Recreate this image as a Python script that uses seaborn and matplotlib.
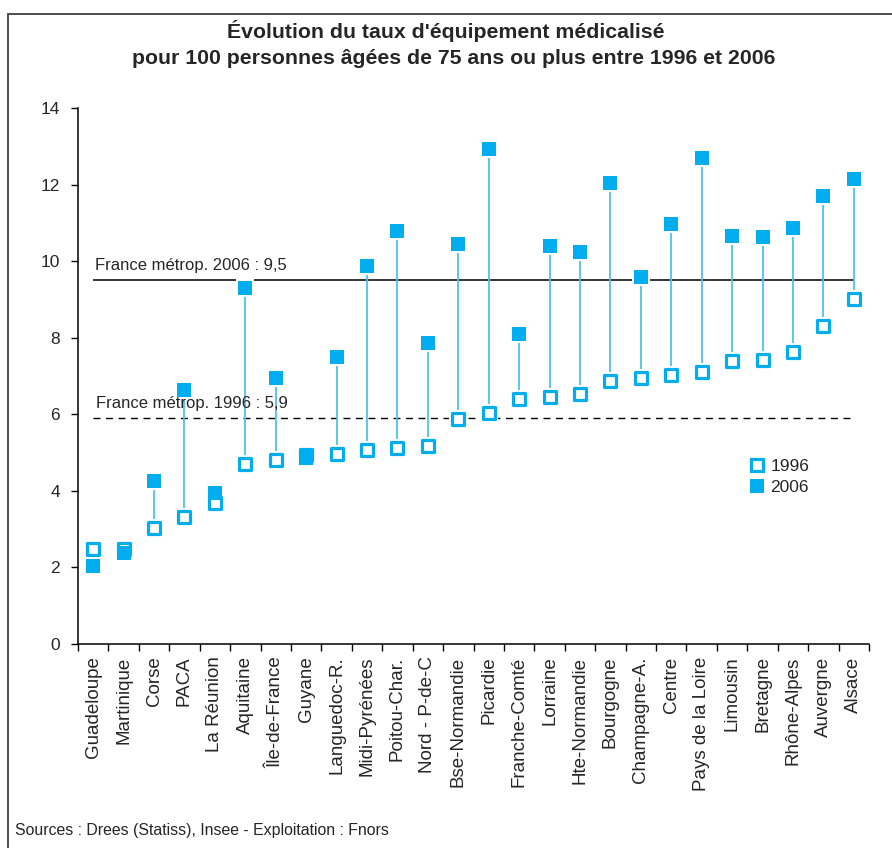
import numpy as np
import pandas as pd
import matplotlib
matplotlib.use("Agg")
import matplotlib.pyplot as plt
from matplotlib.lines import Line2D
from matplotlib.patches import Rectangle
import seaborn as sns

regions = ["Guadeloupe", "Martinique", "Corse", "PACA", "La Réunion", "Aquitaine",
           "Île-de-France", "Guyane", "Languedoc-R.", "Midi-Pyrénées", "Poitou-Char.",
           "Nord - P-de-C", "Bse-Normandie", "Picardie", "Franche-Comté", "Lorraine",
           "Hte-Normandie", "Bourgogne", "Champagne-A.", "Centre", "Pays de la Loire",
           "Limousin", "Bretagne", "Rhône-Alpes", "Auvergne", "Alsace"]
taux_1996 = [2.48, 2.47, 3.02, 3.33, 3.67, 4.69, 4.81, 4.93, 4.97, 5.06, 5.13,
             5.18, 5.87, 6.03, 6.41, 6.46, 6.54, 6.86, 6.96, 7.03, 7.10, 7.39,
             7.42, 7.62, 8.30, 9.00]
taux_2006 = [2.04, 2.38, 4.27, 6.63, 3.94, 9.30, 6.96, 4.87, 7.50, 9.87, 10.79,
             7.86, 10.44, 12.93, 8.09, 10.39, 10.25, 12.05, 9.58, 10.96, 12.70,
             10.66, 10.64, 10.86, 11.71, 12.14]
france_1996 = 5.9
france_2006 = 9.5
yticks = [0, 2, 4, 6, 8, 10, 12, 14]

title_l1 = "Évolution du taux d'équipement médicalisé"
title_l2 = "pour 100 personnes âgées de 75 ans ou plus entre 1996 et 2006"
source = "Sources : Drees (Statiss), Insee - Exploitation : Fnors"

CYAN = "#00aeef"
LINE = "#4cc4f2"

sns.set_theme(style="white")
plt.rcParams["font.family"] = ["Liberation Sans", "DejaVu Sans"]

df = pd.DataFrame({"region": regions, "1996": taux_1996, "2006": taux_2006})
pos = np.arange(len(regions))

fig = plt.figure(figsize=(8.92, 8.48), dpi=100)
ax = fig.add_axes([78 / 892, 1 - 644 / 848, (869 - 78) / 892, (644 - 108) / 848])

# connectors between the two years
ax.vlines(pos, df["1996"], df["2006"], color=LINE, lw=1.3, zorder=2)

# white halos leave a small gap between the connectors and the markers
for col in ["1996", "2006"]:
    sns.scatterplot(x=pos, y=df[col], ax=ax, marker="s", s=185, color="white",
                    linewidth=0, legend=False, zorder=2.5)

sns.scatterplot(x=pos, y=df["1996"], ax=ax, marker="s", s=64, facecolor="white",
                edgecolor=CYAN, linewidth=2.3, legend=False, zorder=3)
sns.scatterplot(x=pos, y=df["2006"], ax=ax, marker="s", s=95, color=CYAN,
                linewidth=0, legend=False, zorder=4)

# national reference levels
ax.hlines(france_2006, pos[0], pos[-1], color="black", lw=1.1, zorder=1.5)
ax.hlines(france_1996, pos[0], pos[-1], color="black", lw=1.0,
          linestyles=(0, (5, 4)), zorder=1.5)
ax.annotate("France métrop. 2006 : 9,5", (pos[0], france_2006), xytext=(1, 5),
            textcoords="offset points", fontsize=12, ha="left", va="bottom")
ax.annotate("France métrop. 1996 : 5,9", (pos[0], france_1996), xytext=(2, 5),
            textcoords="offset points", fontsize=12, ha="left", va="bottom")

ax.set_xlim(-0.5, len(regions) - 0.5)
ax.set_ylim(0, 14)
ax.set_yticks(yticks)
ax.set_yticklabels([str(v) for v in yticks], fontsize=12.5)
ax.set_xticks(pos)
ax.set_xticklabels(regions, rotation=90, fontsize=13.5)
ax.set_xticks(np.arange(-0.5, len(regions), 1), minor=True)
ax.tick_params(axis="x", which="major", length=0, pad=9)
ax.tick_params(axis="x", which="minor", length=5, width=1, color="black",
               direction="out", bottom=True)
ax.tick_params(axis="y", length=5, width=1, color="black", direction="out",
               left=True, pad=8)
for side in ["top", "right"]:
    ax.spines[side].set_visible(False)
for side in ["left", "bottom"]:
    ax.spines[side].set_color("black")
    ax.spines[side].set_linewidth(1.1)
ax.set_xlabel("")
ax.set_ylabel("")
ax.grid(False)

handles = [
    Line2D([], [], ls="none", marker="s", markersize=8.0, markerfacecolor="white",
           markeredgecolor=CYAN, markeredgewidth=2.3),
    Line2D([], [], ls="none", marker="s", markersize=9.7, markerfacecolor=CYAN,
           markeredgewidth=0),
]
fig.legend(handles, ["1996", "2006"], loc="upper left",
           bbox_to_anchor=(741 / 892, 1 - 450 / 848), frameon=False,
           fontsize=12.5, handlelength=0.8, handletextpad=0.4, labelspacing=0.35,
           borderpad=0)

fig.text(446 / 892, 1 - 31 / 848, title_l1, ha="center", va="center",
         fontsize=15.3, fontweight="bold")
fig.text(454 / 892, 1 - 58 / 848, title_l2, ha="center", va="center",
         fontsize=15.3, fontweight="bold")
fig.text(15 / 892, 1 - 830 / 848, source, ha="left", va="center", fontsize=11.4)

fig.add_artist(Rectangle((8 / 892, -0.05), 1.2, 1.05 - 14 / 848, transform=fig.transFigure,
                         fill=False, edgecolor="#404040", lw=1.3, clip_on=False))

fig.savefig("out.png", dpi=100, facecolor="white")
